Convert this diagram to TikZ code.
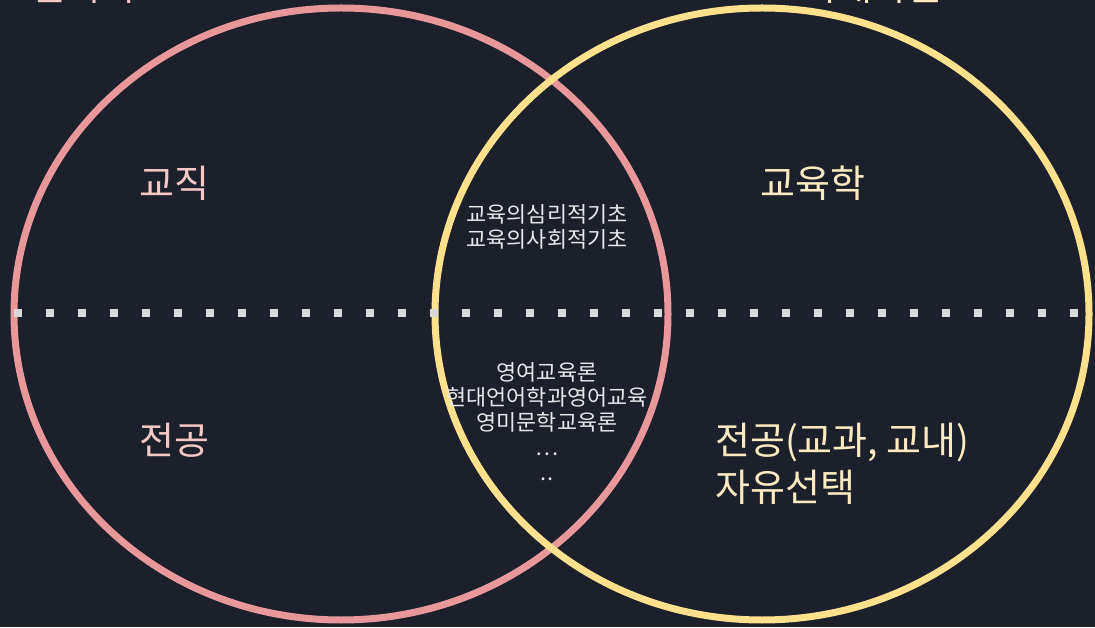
\documentclass[tikz,border=0pt]{standalone}
\usepackage{fontspec}
\setmainfont{Noto Sans CJK KR}
\usepackage{tikz}
\usetikzlibrary{shapes.geometric}
\definecolor{bgdark}{HTML}{1B202B}
\definecolor{pinkline}{HTML}{E8989A}
\definecolor{yellowline}{HTML}{FFE08C}
\definecolor{pinktext}{HTML}{F4C8C4}
\definecolor{yellowtext}{HTML}{FCEBC2}
\definecolor{midtext}{HTML}{E8E8EA}
\definecolor{dotgray}{HTML}{D9D9D9}
\tikzstyle{setcircle} = [ellipse, minimum width=654pt, minimum height=612pt, line width=7pt, inner sep=0pt]
\tikzstyle{bigtext} = [font=\fontsize{38}{47}\selectfont, inner sep=0pt]
\tikzstyle{smalltext} = [font=\fontsize{21.8}{25}\selectfont, align=center, text=midtext, inner sep=0pt]
\tikzstyle{divider} = [line width=8pt, dotgray, dash pattern=on 8pt off 24pt]

\begin{document}
\begin{tikzpicture}[x=1pt, y=1pt, node distance=257pt]
        % Background
        \fill[bgdark] (0,0) rectangle (1095,627);
        \useasboundingbox (0,0) rectangle (1095,627);

        % Sets
        \node (leftset) [setcircle, draw=pinkline] at (341,313) {};
        \node (rightset) [setcircle, draw=yellowline] at (762,313) {};

        % Titles (cut off at the top)
        \node (lefttitle) [bigtext, text=pinktext, anchor=base west] at (32,626) {본학과};
        \node (righttitle) [bigtext, text=yellowtext, anchor=base east] at (943,626) {교육대학원};

        % Divider
        \coordinate (divstart) at (14,314);
        \coordinate (divend) at (1090,314);
        \draw [divider] (divstart) -- (divend);

        % Labels
        \node (gyojik) [bigtext, text=pinktext] at (174,444) {교직};
        \node (jeongong) [bigtext, text=pinktext, below of=gyojik] {전공};
        \node (gyoyukhak) [bigtext, text=yellowtext] at (813,444) {교육학};
        \node (jayu) [bigtext, text=yellowtext, align=left, anchor=west] at (715,163) {전공(교과, 교내)\\자유선택};

        % Intersection
        \node (basics) [smalltext] at (547,400) {교육의심리적기초\\교육의사회적기초};
        \node (methods) [smalltext] at (547,205) {영여교육론\\현대언어학과영어교육\\영미문학교육론\\…\\..};
    \end{tikzpicture}
\end{document}
